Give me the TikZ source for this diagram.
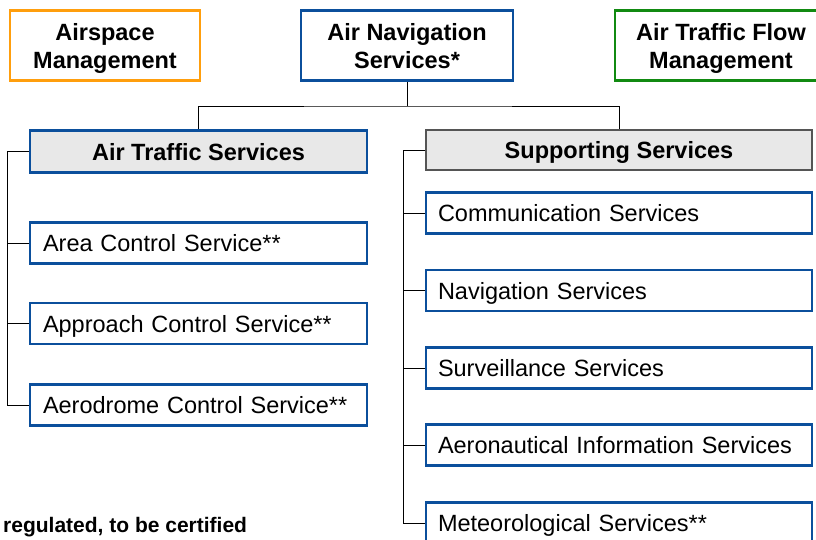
\documentclass[tikz,border=0pt]{standalone}
\usepackage{fontspec}
\setmainfont{Liberation Sans}
\usetikzlibrary{positioning,calc}
\definecolor{ansblue}{HTML}{0B4F9C}
\definecolor{asmorange}{HTML}{FF9E0D}
\definecolor{atfmgreen}{HTML}{118A11}
\definecolor{headgray}{HTML}{E8E8E8}
\definecolor{linegray}{HTML}{555555}
\tikzset{
  topbox/.style={draw,line width=2.6pt,minimum width=190pt,minimum height=70pt,
    align=center,font=\fontsize{23.5}{28}\selectfont\bfseries,inner sep=0pt,text depth=0pt},
  headbox/.style={draw,fill=headgray,minimum height=42pt,inner sep=0pt,text depth=0pt,
    font=\fontsize{23.5}{28}\selectfont\bfseries},
  leafbox/.style={draw=ansblue,line width=2.6pt,minimum height=41pt,inner sep=0pt,text depth=0pt,
    align=left,font=\fontsize{23.5}{28}\selectfont},
  conn/.style={line width=0.9pt,black}
}
\begin{document}
\begin{tikzpicture}[x=1pt,y=-1pt]
\useasboundingbox (0,0) rectangle (816,540);
\clip (0,0) rectangle (816,540);

%top boxes
\node[topbox,draw=asmorange] (asm) at (105,45.5){Airspace\\Management};
\node[topbox,draw=ansblue,minimum width=212pt] (ans) at (407,45.5){Air Navigation\\Services*};
\node[topbox,draw=atfmgreen,minimum width=212pt] (atfm) at (721,45.5){Air Traffic Flow\\Management};

%second level
\node[headbox,draw=ansblue,line width=2.6pt,minimum width=337pt] (ats) at (198.5,151.5){Air Traffic Services};
\node[headbox,draw=linegray,line width=1.2pt,minimum width=386pt,minimum height=40pt] (ss) at (619,150){Supporting Services};

%air traffic services
\node[leafbox,minimum width=337pt,text width=311pt] (acs) at (198.5,243){Area Control Service**};
\node[leafbox,minimum width=337pt,text width=311pt] (apc) at (198.5,323.5){Approach Control Service**};
\node[leafbox,minimum width=337pt,text width=311pt] (adc) at (198.5,405){Aerodrome Control Service**};

%supporting services
\node[leafbox,minimum width=386pt,text width=362pt] (com) at (619,213){Communication Services};
\node[leafbox,minimum width=386pt,text width=362pt] (nav) at (619,290.5){Navigation Services};
\node[leafbox,minimum width=386pt,text width=362pt] (sur) at (619,368){Surveillance Services};
\node[leafbox,minimum width=386pt,text width=362pt] (ais) at (619,445){Aeronautical Information Services};
\node[leafbox,minimum width=386pt,text width=362pt] (met) at (619,523){Meteorological Services**};

%footnote
\node[anchor=west,inner sep=0pt,font=\fontsize{21}{25}\selectfont\bfseries] (note) at (3,527){regulated, to be certified};

%some lines
\coordinate (split) at (407,106);
\draw[conn] (ans.south) -- (split);
\draw[conn] (ats.north) |- (split) -| (ss.north);

\coordinate (lbar) at (7,151.5);
\draw[conn] (ats.west) -- (lbar) |- (adc.west);
\foreach \leaf in {acs,apc}
  \draw[conn] (lbar |- \leaf.west) -- (\leaf.west);

\coordinate (rbar) at (403,150);
\draw[conn] (ss.west) -- (rbar) |- (met.west);
\foreach \leaf in {com,nav,sur,ais}
  \draw[conn] (rbar |- \leaf.west) -- (\leaf.west);
\end{tikzpicture}
\end{document}
